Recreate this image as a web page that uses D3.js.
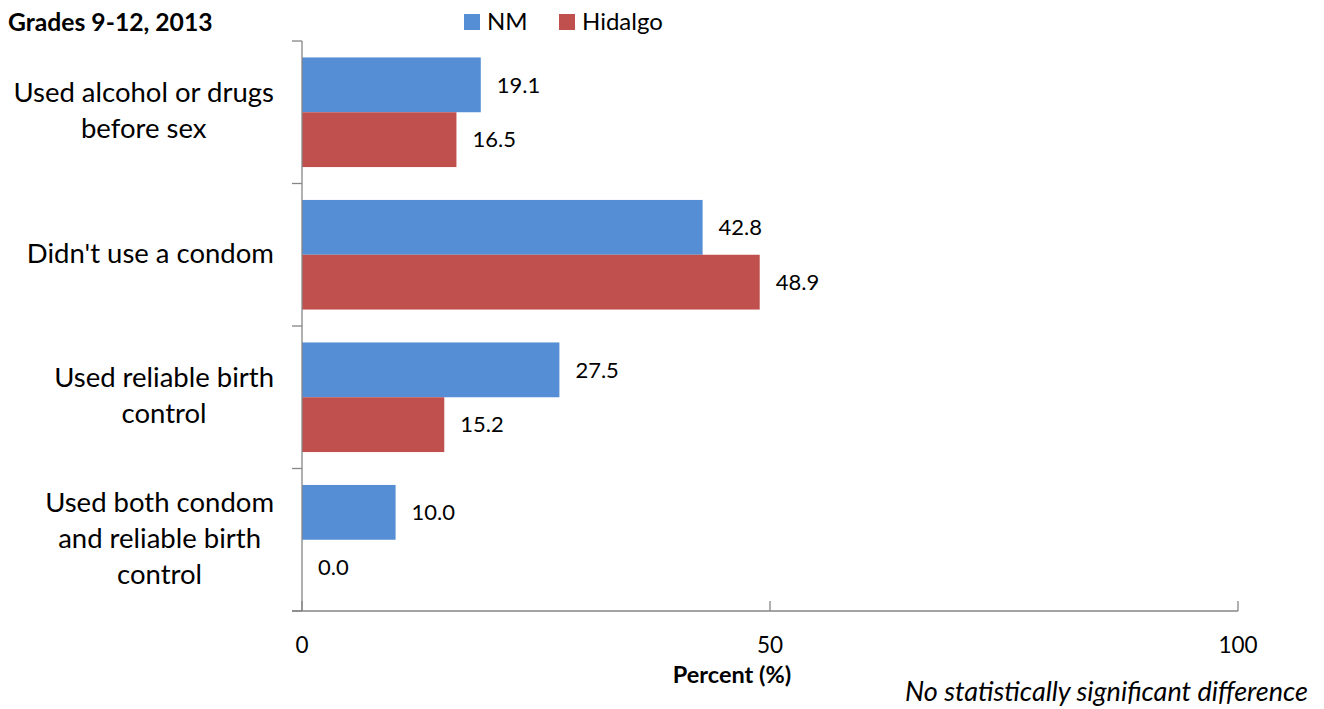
<!DOCTYPE html>
<html>
<head>
<meta charset="utf-8">
<script src="https://cdn.jsdelivr.net/npm/d3@7"></script>
<style>
  html, body { margin: 0; padding: 0; background: #fff; }
  svg { display: block; font-family: Lato, "Open Sans", sans-serif; }
</style>
</head>
<body>
<svg id="chart" width="1324" height="709"></svg>
<script>
const categories = [
  ["Used alcohol or drugs", "before sex"],
  ["Didn't use a condom"],
  ["Used reliable birth", "control"],
  ["Used both condom", "and reliable birth", "control"]
];
const seriesNames = ["NM", "Hidalgo"];
const nmValues = [19.1, 42.8, 27.5, 10.0];
const hidalgoValues = [16.5, 48.9, 15.2, 0.0];
const xTicks = [0, 50, 100];
const title = "Grades 9-12, 2013";
const xAxisTitle = "Percent (%)";
const footnote = "No statistically significant difference";
const colors = { NM: "#558ED5", Hidalgo: "#C0504D" };

const svg = d3.select("#chart");
const axisColor = "#868686";

const x = d3.scaleLinear().domain([0, 100]).range([302, 1238]);
const catKeys = categories.map((c, i) => i);
const y = d3.scaleBand().domain(catKeys).range([41, 611]).padding(0);
const ySub = d3.scaleBand().domain(seriesNames).range([0, y.bandwidth()]).paddingInner(0).paddingOuter(0.3);

const seriesValues = { NM: nmValues, Hidalgo: hidalgoValues };

// bars
const g = svg.append("g");
seriesNames.forEach(s => {
  g.selectAll(null).data(seriesValues[s]).enter().append("rect")
    .attr("x", x(0))
    .attr("y", (d, i) => y(i) + ySub(s))
    .attr("width", d => x(d) - x(0))
    .attr("height", ySub.bandwidth())
    .attr("fill", colors[s]);
  g.selectAll(null).data(seriesValues[s]).enter().append("text")
    .attr("x", d => x(d) + 16)
    .attr("y", (d, i) => y(i) + ySub(s) + ySub.bandwidth() / 2)
    .attr("dy", "0.35em")
    .attr("font-size", 22)
    .attr("fill", "#000")
    .text(d => d.toFixed(1));
});

// y axis line and ticks
svg.append("line").attr("x1", x(0)).attr("x2", x(0)).attr("y1", 41).attr("y2", 611)
  .attr("stroke", axisColor).attr("stroke-width", 1.3);
const boundaries = catKeys.map(i => y(i)).concat([y.range()[1]]);
svg.selectAll(null).data(boundaries).enter().append("line")
  .attr("x1", x(0) - 10).attr("x2", x(0)).attr("y1", d => d).attr("y2", d => d)
  .attr("stroke", axisColor).attr("stroke-width", 1.3);

// x axis
svg.append("line").attr("x1", x(0) - 10).attr("x2", x(100)).attr("y1", 611).attr("y2", 611)
  .attr("stroke", axisColor).attr("stroke-width", 1.3);
svg.selectAll(null).data(xTicks).enter().append("line")
  .attr("x1", d => x(d)).attr("x2", d => x(d)).attr("y1", 601).attr("y2", 611)
  .attr("stroke", axisColor).attr("stroke-width", 1.3);
svg.selectAll(null).data(xTicks).enter().append("text")
  .attr("x", d => x(d)).attr("y", 645).attr("dy", "0.35em")
  .attr("text-anchor", "middle").attr("font-size", 22.5).text(d => d);

svg.append("text").attr("x", 732).attr("y", 675).attr("dy", "0.35em")
  .attr("text-anchor", "middle").attr("font-size", 23.5).attr("font-weight", "bold").text(xAxisTitle);
svg.append("text").attr("x", 1308).attr("y", 692).attr("dy", "0.35em")
  .attr("text-anchor", "end").attr("font-size", 27).attr("font-style", "italic").text(footnote);

// category labels: block right-aligned at 274, lines centered within block
const lineH = 36;
categories.forEach((lines, i) => {
  const cy = y(i) + y.bandwidth() / 2 - 1.5;
  const tg = svg.append("g");
  const texts = lines.map((t, j) => tg.append("text")
    .attr("y", cy + (j - (lines.length - 1) / 2) * lineH)
    .attr("dy", "0.35em")
    .attr("font-size", 27.5)
    .attr("text-anchor", "middle")
    .text(t));
  const maxW = d3.max(texts, t => t.node().getComputedTextLength());
  texts.forEach(t => t.attr("x", 274 - maxW / 2));
});

// title
svg.append("text").attr("x", 8).attr("y", 22).attr("dy", "0.35em")
  .attr("font-size", 24.7).attr("font-weight", "bold").text(title);

// legend
const leg = svg.append("g");
const legX = { NM: 464, Hidalgo: 559 };
seriesNames.forEach(s => {
  leg.append("rect").attr("x", legX[s]).attr("y", 14).attr("width", 16).attr("height", 16).attr("fill", colors[s]);
  leg.append("text").attr("x", legX[s] + 23).attr("y", 22).attr("dy", "0.35em")
    .attr("font-size", 24).text(s);
});
</script>
</body>
</html>
